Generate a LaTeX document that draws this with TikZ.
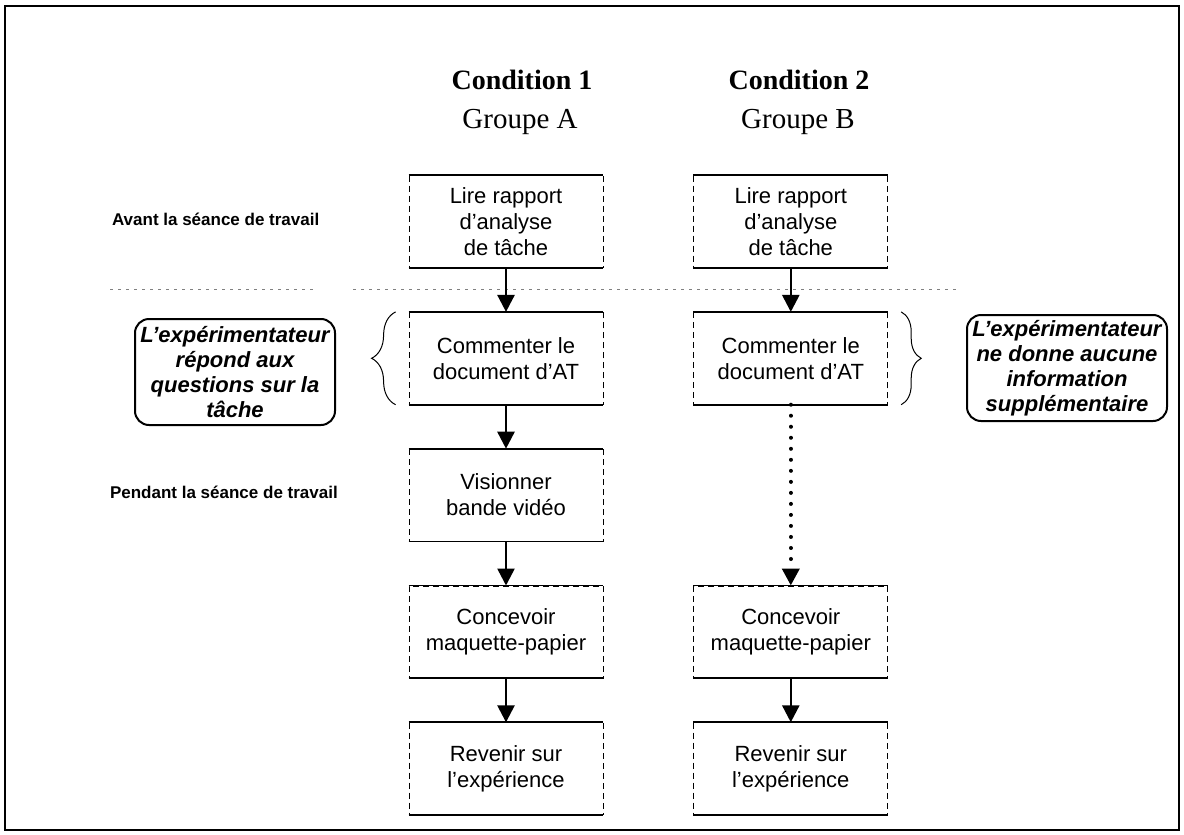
\documentclass[tikz,border=0pt]{standalone}
\usepackage{fontspec}
\setmainfont{Liberation Serif}
\setsansfont{Liberation Sans}
\usetikzlibrary{positioning}
\usetikzlibrary{arrows.meta}
\usetikzlibrary{decorations.pathreplacing}

\tikzset{
  etape/.style={draw, densely dashed, line width=0.4pt, minimum width=97pt, minimum height=46pt,
    inner sep=2pt, align=center, font=\sffamily\fontsize{11}{13}\selectfont},
  note/.style={draw, rounded corners=7pt, line width=1pt, minimum width=100pt, minimum height=53pt,
    inner sep=0pt, align=center, font=\sffamily\bfseries\itshape\fontsize{11}{12.5}\selectfont},
  fleche/.style={line width=1.3pt, -{Triangle[width=8.5pt,length=8.5pt]}},
  phase/.style={anchor=base west, font=\sffamily\bfseries\fontsize{8.5}{10}\selectfont},
  titre/.style={anchor=base, font=\bfseries\fontsize{14}{16}\selectfont},
  groupe/.style={anchor=base, font=\fontsize{14.5}{16}\selectfont},
  accolade/.style={decorate, decoration={brace, amplitude=12pt}, line width=0.5pt}
}

\begin{document}
\begin{tikzpicture}[x=0.5pt, y=-0.5pt]
    \useasboundingbox (0,0) rectangle (1184,835);
    \draw[line width=1pt] (5,6) rectangle (1179,830);

    % en-tetes
    \node[titre]  (cond1) at (522,90)  {Condition 1};
    \node[groupe] (grpA)  at (520,128) {Groupe A};
    \node[titre]  (cond2) at (799,90)  {Condition 2};
    \node[groupe] (grpB)  at (798,128) {Groupe B};

    % phases
    \node[phase] (avant)   at (105,225) {Avant la séance de travail};
    \node[phase] (pendant) at (103,498) {Pendant la séance de travail};
    \draw[gray, line width=0.5pt, dash pattern=on 1.5pt off 2.5pt] (110,289) -- (315,289) (353,289) -- (960,289);

    % condition 1
    \node[etape] (A1) at (506,221.5) {Lire rapport\\d'analyse\\de tâche};
    \node[etape, below=22pt of A1] (A2) {Commenter le\\document d'AT};
    \node[etape, below=22pt of A2] (A3) {Visionner\\bande vidéo};
    \node[etape, below=22pt of A3] (A4) {Concevoir\\maquette-papier};
    \node[etape, below=22pt of A4] (A5) {Revenir sur\\l'expérience};

    % condition 2
    \node[etape, right=45pt of A1] (B1) {Lire rapport\\d'analyse\\de tâche};
    \node[etape, right=45pt of A2] (B2) {Commenter le\\document d'AT};
    \node[etape, right=45pt of A4] (B4) {Concevoir\\maquette-papier};
    \node[etape, right=45pt of A5] (B5) {Revenir sur\\l'expérience};

    \foreach \n in {A1,A2,A3,A4,A5,B1,B2,B4,B5}
        \draw[line width=0.9pt] (\n.north west) -- (\n.north east) (\n.south west) -- (\n.south east);

    % fleches
    \draw[fleche] (A1) -- (A2);
    \draw[fleche] (A2) -- (A3);
    \draw[fleche] (A3) -- (A4);
    \draw[fleche] (A4) -- (A5);
    \draw[fleche] (B1) -- (B2);
    \draw[fleche, line width=2pt, line cap=round, dash pattern=on 0.01pt off 5.5pt] (B2) -- (B4);
    \draw[fleche] (B4) -- (B5);

    % consignes
    \node[note] (noteA) at (235,372) {L'expérimentateur\\répond aux\\questions sur la\\tâche};
    \node[note] (noteB) at (1067,368) {L'expérimentateur\\ne donne aucune\\information\\supplémentaire};
    \draw[accolade] ([xshift=-6.5pt]A2.south west) -- ([xshift=-6.5pt]A2.north west);
    \draw[accolade, decoration={amplitude=10pt}] ([xshift=6.5pt]B2.north east) -- ([xshift=6.5pt]B2.south east);
\end{tikzpicture}
\end{document}
